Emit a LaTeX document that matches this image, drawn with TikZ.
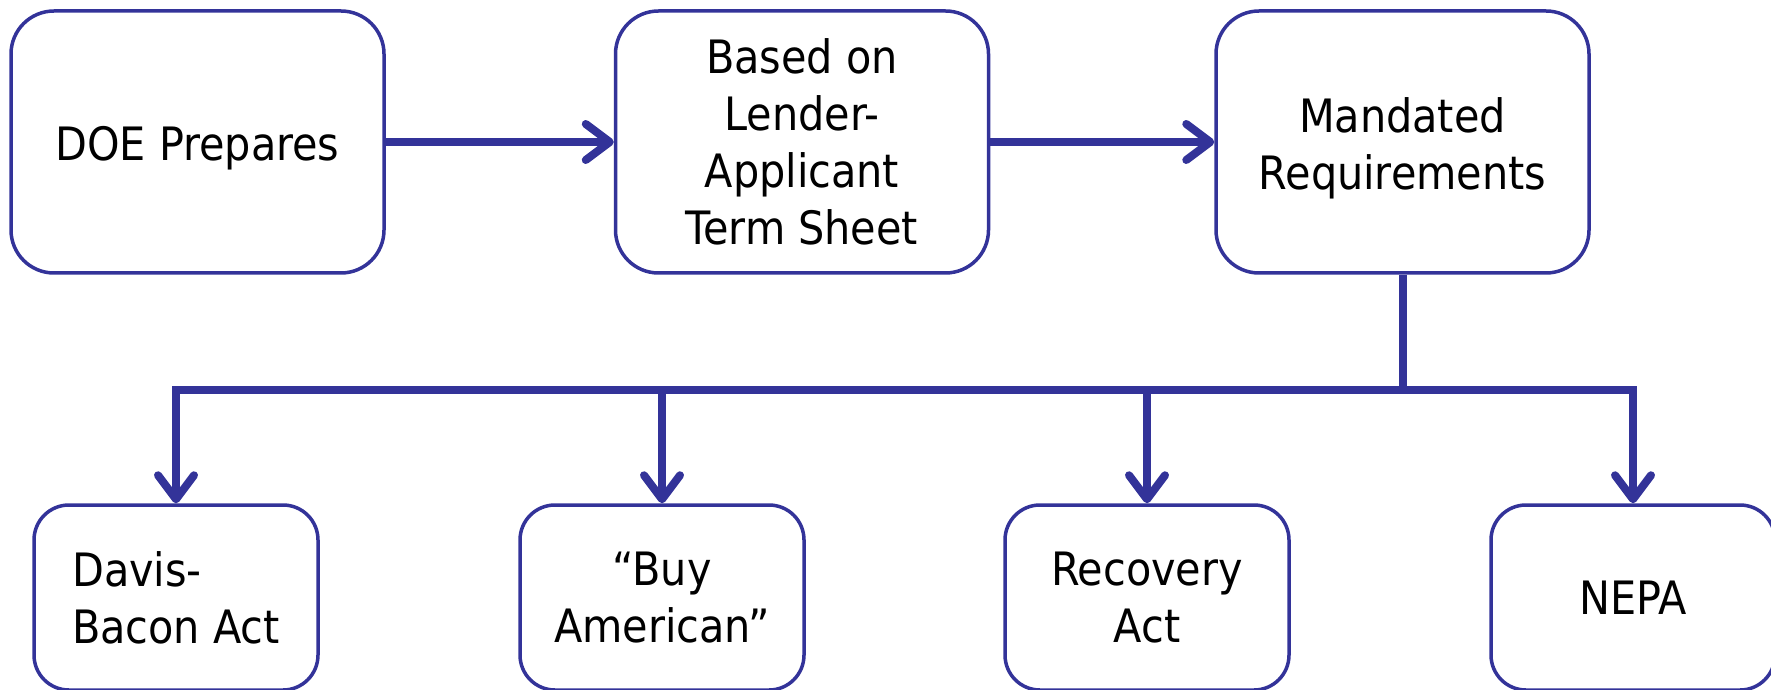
\documentclass[tikz,border=0pt]{standalone}
\usepackage{fontspec}
\setmainfont{DejaVu Sans Condensed}
\usetikzlibrary{arrows.meta}
\definecolor{dblue}{RGB}{51,51,153}
\begin{document}
\begin{tikzpicture}[x=1pt,y=1pt,
  topbox/.style={draw=dblue, line width=3.5pt, rounded corners=43pt, minimum width=373pt, minimum height=262pt, inner sep=0pt},
  botbox/.style={draw=dblue, line width=3.5pt, rounded corners=35pt, minimum width=284pt, minimum height=185pt, inner sep=0pt},
  txt/.style={inner sep=0pt, align=center, font=\fontsize{46}{57}\selectfont},
  conn/.style={draw=dblue, line width=8pt},
  arr/.style={conn, -{Straight Barb[length=24pt,width=36pt,round]}}]
\useasboundingbox (0,0) rectangle (1771,689);
\node[topbox] (b1) at (197.5,547) {};
\node[topbox] (b2) at (802,547) {};
\node[topbox] (b3) at (1402.5,547) {};
\node[txt] (t1) at ([yshift=-6pt]b1.center) {DOE Prepares};
\node[txt] (t2) at ([yshift=0pt]b2.center) {Based on\\Lender-\\Applicant\\Term Sheet};
\node[txt] (t3) at ([yshift=-6pt]b3.center) {Mandated\\Requirements};
\node[botbox] (b4) at (176,91.5) {};
\node[botbox] (b5) at (662,91.5) {};
\node[botbox] (b6) at (1147,91.5) {};
\node[botbox] (b7) at (1633,91.5) {};
\node[txt, align=left] (t4) at (b4.center) {Davis-\\Bacon Act};
\node[txt] (t5) at (b5.center) {“Buy\\American”};
\node[txt] (t6) at (b6.center) {Recovery\\Act};
\node[txt] (t7) at (b7.center) {NEPA};
\coordinate (j) at (1402.5,299);
\draw[arr] (b1.east) -- (b2.west);
\draw[arr] (b2.east) -- (b3.west);
\draw[conn] (b3.south) -- (j);
\draw[arr] (j) -| (b4.north);
\draw[arr] (j) -| (b5.north);
\draw[arr] (j) -| (b6.north);
\draw[arr] (j) -| (b7.north);
\end{tikzpicture}
\end{document}
